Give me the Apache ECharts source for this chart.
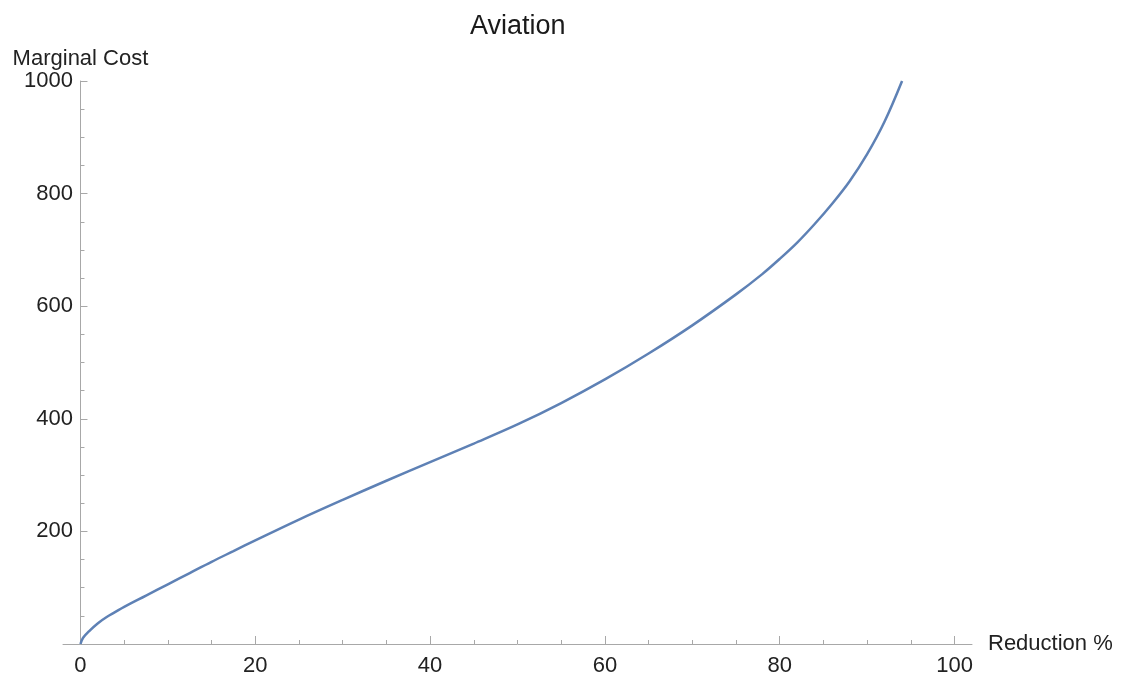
<!DOCTYPE html>
<html>
<head>
<meta charset="utf-8">
<script src="https://cdn.jsdelivr.net/npm/echarts@6/dist/echarts.min.js"></script>
<style>
  html, body { margin: 0; padding: 0; background: #fff; }
  #chart { width: 1126px; height: 678px; }
</style>
</head>
<body>
<div id="chart"></div>
<script>
// Marginal abatement cost curve for aviation
const reduction = [0, 0.3, 1, 2, 3, 4, 5, 7.5, 10, 12.5, 15, 17.5, 20, 25, 30, 35, 40, 45, 50, 55, 60,
                   65, 70, 75, 78, 80, 82, 84, 86, 88, 90, 92, 94];
const marginalCost = [0, 11, 23, 37, 48, 57, 66, 86, 106, 126, 146, 165, 184, 221, 256, 290, 323, 356, 390, 428, 470,
                      516, 566, 621, 657, 684, 713, 746, 782, 822, 870, 928, 1000];

const xMajorTicks = [0, 20, 40, 60, 80, 100];
const xMinorTicks = [5, 10, 15, 25, 30, 35, 45, 50, 55, 65, 70, 75, 85, 90, 95];

const FONT = '"Liberation Sans", Arial, sans-serif';
const AXIS_COLOR = '#a8a8a8';
const TEXT_COLOR = '#222222';

const chart = echarts.init(document.getElementById('chart'), null, { renderer: 'canvas' });

chart.setOption({
  backgroundColor: '#ffffff',
  animation: false,
  title: {
    text: 'Aviation',
    left: 465,
    top: 8,
    textStyle: { fontFamily: FONT, fontSize: 27, fontWeight: 'normal', color: '#1a1a1a' }
  },
  grid: { left: 63, right: 154, top: 81, bottom: 34, containLabel: false },
  xAxis: [
    {
      type: 'value',
      min: -2,
      max: 102,
      position: 'bottom',
      name: 'Reduction %',
      nameLocation: 'end',
      nameGap: 16,
      nameTextStyle: { fontFamily: FONT, fontSize: 22, color: TEXT_COLOR },
      axisLine: { show: true, onZero: true, lineStyle: { color: AXIS_COLOR, width: 1 } },
      axisTick: { show: true, inside: true, length: 8, customValues: xMajorTicks,
                  lineStyle: { color: AXIS_COLOR, width: 1 } },
      axisLabel: { customValues: xMajorTicks, margin: 11,
                   fontFamily: FONT, fontSize: 22, color: TEXT_COLOR },
      splitLine: { show: false }
    },
    {
      type: 'value',
      min: -2,
      max: 102,
      position: 'bottom',
      offset: 0,
      axisLine: { show: false },
      axisTick: { show: true, inside: true, length: 4, customValues: xMinorTicks,
                  lineStyle: { color: AXIS_COLOR, width: 1 } },
      axisLabel: { show: false },
      splitLine: { show: false }
    }
  ],
  yAxis: {
    type: 'value',
    min: 0,
    max: 1000,
    interval: 200,
    name: 'Marginal Cost',
    nameLocation: 'end',
    nameGap: 11,
    nameTextStyle: { fontFamily: FONT, fontSize: 22, color: TEXT_COLOR },
    axisLine: { show: true, onZero: true, onZeroAxisIndex: 0, lineStyle: { color: AXIS_COLOR, width: 1 } },
    axisTick: { show: true, inside: true, length: 7, lineStyle: { color: AXIS_COLOR, width: 1 } },
    minorTick: { show: true, splitNumber: 4, length: 4, lineStyle: { color: AXIS_COLOR, width: 1 } },
    axisLabel: { showMinLabel: false, margin: -10, formatter: (v) => String(v),
                 fontFamily: FONT, fontSize: 22, color: TEXT_COLOR },
    splitLine: { show: false },
    minorSplitLine: { show: false }
  },
  series: [
    {
      type: 'line',
      xAxisIndex: 0,
      yAxisIndex: 0,
      data: reduction.map((r, i) => [r, marginalCost[i]]),
      smooth: 0.35,
      showSymbol: false,
      lineStyle: { color: '#5e81b5', width: 2.5 },
      clip: false
    }
  ]
});
</script>
</body>
</html>
